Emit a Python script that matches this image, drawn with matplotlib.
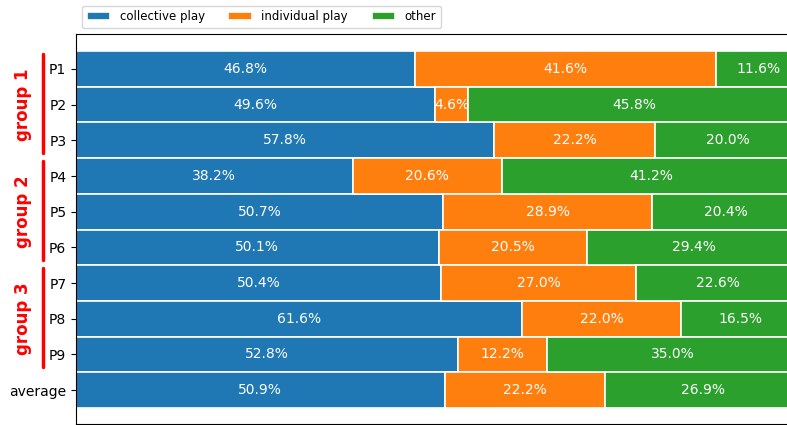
import matplotlib
matplotlib.use("Agg")
import matplotlib.pyplot as plt
import numpy as np

participants = ["P1", "P2", "P3", "P4", "P5", "P6", "P7", "P8", "P9", "average"]
collective = [46.8, 49.6, 57.8, 38.2, 50.7, 50.1, 50.4, 61.6, 52.8, 50.9]
individual = [41.6, 4.6, 22.2, 20.6, 28.9, 20.5, 27.0, 22.0, 12.2, 22.2]
other = [11.6, 45.8, 20.0, 41.2, 20.4, 29.4, 22.6, 16.5, 35.0, 26.9]
series_names = ["collective play", "individual play", "other"]
colors = ["#1f77b4", "#ff7f0e", "#2ca02c"]

groups = ["group 1", "group 2", "group 3"]
group_members = [(0, 2), (3, 5), (6, 8)]

fig = plt.figure(figsize=(7.87, 4.25), dpi=100)
ax = fig.add_axes([76 / 787, 1 / 425, 724 / 787, 390 / 425])

y = np.arange(len(participants))
left = np.zeros(len(participants))
for name, vals, c in zip(series_names, [collective, individual, other], colors):
    vals = np.array(vals)
    bars = ax.barh(y, vals, left=left, height=1.0, color=c, edgecolor="white",
                   linewidth=1.2, label=name)
    ax.bar_label(bars, labels=[f"{v:.1f}%" for v in vals], label_type="center",
                 color="white", fontsize=10)
    left += vals

ax.set_xlim(0, 100)
ax.set_ylim(9.95, -0.98)
ax.set_yticks(y)
ax.set_yticklabels(participants, fontsize=10)
ax.set_xticks([])

ax.legend(loc="lower left", bbox_to_anchor=(0, 1.0), ncol=3, fontsize=8.5,
          frameon=True, borderaxespad=0.5)

# group brackets on the left
trans = ax.get_yaxis_transform()
for g, (a, b) in zip(groups, group_members):
    y0, y1 = a - 0.42, b + 0.35
    ax.plot([-0.046, -0.046], [y0, y1], color="red", lw=2.5,
            transform=trans, clip_on=False, solid_capstyle="round")
    ax.text(-0.073, (a + b) / 2, g, color="red", fontsize=12, fontweight="bold",
            rotation=90, ha="center", va="center", transform=trans)

fig.savefig("out.png", dpi=100)
